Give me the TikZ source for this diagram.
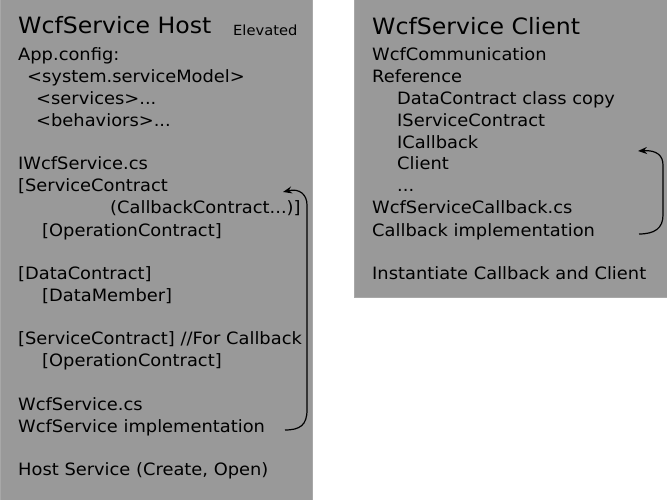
\documentclass[tikz,border=0pt]{standalone}
\usepackage{fontspec}
\setmainfont[FakeStretch=1.05]{DejaVu Sans}
\usetikzlibrary{arrows.meta}
\definecolor{boxfill}{HTML}{999999}
\definecolor{boxline}{HTML}{A8A8A8}
\tikzset{
  panel/.style={fill=boxfill, draw=boxline, line width=0.8pt},
  ln/.style={anchor=base west, inner sep=0pt, font=\fontsize{17}{20}\selectfont},
  ttl/.style={anchor=base west, inner sep=0pt, font=\fontsize{22.5}{27}\selectfont},
  sml/.style={anchor=base west, inner sep=0pt, font=\fontsize{14}{16}\selectfont},
  conn/.style={line width=1.2pt, -{Stealth[length=9pt,width=7pt,inset=3pt]}}
}
\begin{document}
\begin{tikzpicture}[x=1pt,y=-1pt]
\useasboundingbox (0,0) rectangle (667,500);
\draw[panel] (0,-2) rectangle (312,502);
\draw[panel] (354,-2) rectangle (669,297);
% left
\node[ttl] (lt) at (18,34) {WcfService Host};
\node[sml] (el) at (233,36) {Elevated};
\node[ln] (l1) at (18,61) {App.config:};
\node[ln] (l2) at (27,83) {<system.serviceModel>};
\node[ln] (l3) at (36,105) {<services>...};
\node[ln] (l4) at (36,127) {<behaviors>...};
\node[ln] (l5) at (18,170) {IWcfService.cs};
\node[ln] (l6) at (18,192) {[ServiceContract};
\node[ln] (l7) at (110,214) {(CallbackContract...)]};
\node[ln] (l8) at (42,236) {[OperationContract]};
\node[ln] (l9) at (18,279) {[DataContract]};
\node[ln] (l10) at (42,301) {[DataMember]};
\node[ln] (l11) at (18,344) {[ServiceContract] //For Callback};
\node[ln] (l12) at (42,366) {[OperationContract]};
\node[ln] (l13) at (18,410) {WcfService.cs};
\node[ln] (l14) at (18,432) {WcfService implementation};
\node[ln] (l15) at (18,475) {Host Service (Create, Open)};
% right
\node[ttl] (rt) at (372,35) {WcfService Client};
\node[ln] (r1) at (372,61) {WcfCommunication};
\node[ln] (r2) at (372,83) {Reference};
\node[ln] (r3) at (397,105) {DataContract class copy};
\node[ln] (r4) at (397,127) {IServiceContract};
\node[ln] (r5) at (397,149) {ICallback};
\node[ln] (r6) at (397,170) {Client};
\node[ln] (r7) at (397,192) {...};
\node[ln] (r8) at (372,214) {WcfServiceCallback.cs};
\node[ln] (r9) at (372,236) {Callback implementation};
\node[ln] (r10) at (372,279) {Instantiate Callback and Client};
% connectors
\coordinate (ls) at (285,430);
\coordinate (le) at (283,192);
\draw[conn] (ls) .. controls (300,430) and (307,425) .. (307,410) -- (307,205) .. controls (307,195) and (300,188) .. (le);
\coordinate (rs) at (639,234);
\coordinate (re) at (638,151);
\draw[conn] (rs) .. controls (655,234) and (663,228) .. (663,215) -- (663,165) .. controls (663,155) and (656,150) .. (re);
\end{tikzpicture}
\end{document}
